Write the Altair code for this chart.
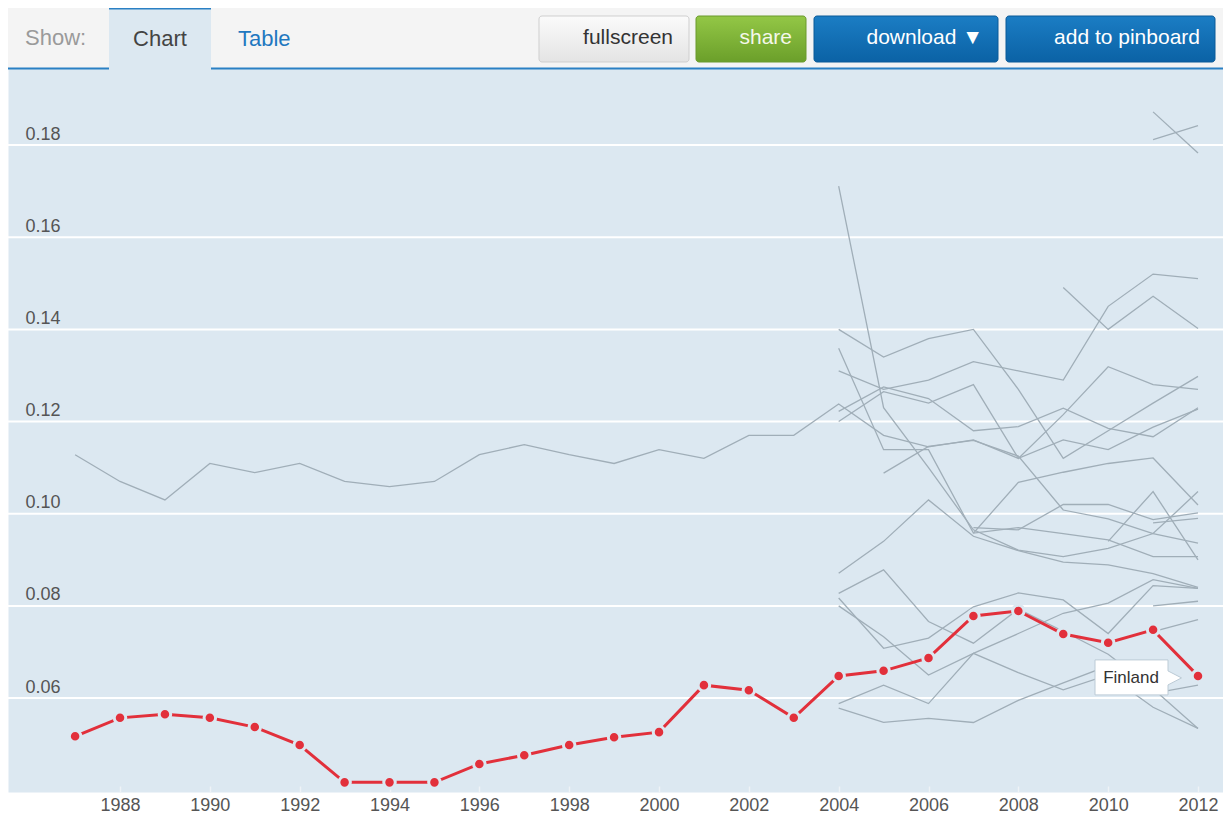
import altair as alt
import pandas as pd

# ---------------- data ----------------
YEARS = list(range(1987, 2013))
FINLAND = [0.0517, 0.0557, 0.0565, 0.0557, 0.0537, 0.0498, 0.0417, 0.0417, 0.0417,
           0.0457, 0.0476, 0.0498, 0.0515, 0.0526, 0.0628, 0.0617, 0.0557, 0.0648,
           0.0659, 0.0687, 0.0778, 0.0789, 0.0739, 0.0720, 0.0748, 0.0648]
LONG_SERIES = [0.1128, 0.1070, 0.1030, 0.1109, 0.1089, 0.1109, 0.1070, 0.1059, 0.1070,
               0.1128, 0.1150, 0.1128, 0.1109, 0.1139, 0.1120, 0.1170, 0.1170, 0.1238,
               0.1170, 0.1145, 0.1160, 0.1120, 0.1160, 0.1139, 0.1188, 0.1227]

RECENT_YEARS = list(range(2004, 2013))
S02 = [0.1711, 0.1230, 0.1100, 0.0965, 0.0921, 0.0907, 0.0925, 0.0957, 0.1048]
S03 = [0.1359, 0.1139, 0.1139, 0.0958, 0.0970, 0.0957, 0.0943, 0.0907, 0.0907]
S04 = [0.1310, 0.1270, 0.1290, 0.1330, 0.1310, 0.1290, 0.1450, 0.1520, 0.1510]
S05 = [0.1400, 0.1340, 0.1380, 0.1400, 0.1270, 0.1120, 0.1180, 0.1240, 0.1298]
S06 = [0.1222, 0.1275, 0.1250, 0.1180, 0.1189, 0.1229, 0.1185, 0.1167, 0.1230]
S07 = [0.1200, 0.1265, 0.1240, 0.1280, 0.1120, 0.1215, 0.1319, 0.1280, 0.1270]
S08 = [None, 0.1088, 0.1146, 0.1159, 0.1125, 0.1008, 0.0989, 0.0957, 0.0936]
S09 = [0.0871, 0.0940, 0.1030, 0.0951, 0.0920, 0.0895, 0.0889, 0.0870, 0.0840]
S10 = [None, None, None, 0.0958, 0.1068, 0.1090, 0.1109, 0.1121, 0.1019]
S11 = [0.0827, 0.0878, 0.0766, 0.0719, 0.0793, 0.0745, 0.0695, 0.0620, 0.0534]
S12 = [0.0817, 0.0708, 0.0730, 0.0798, 0.0828, 0.0813, 0.0740, 0.0844, 0.0838]
S13 = [0.0800, 0.0733, 0.0650, 0.0697, 0.0740, 0.0784, 0.0806, 0.0857, 0.0838]
S14 = [0.0588, 0.0628, 0.0588, 0.0697, 0.0655, 0.0618, 0.0650, 0.0580, 0.0534]
S15 = [0.0578, 0.0547, 0.0556, 0.0547, 0.0595, 0.0633, 0.0670, 0.0610, 0.0628]
S16 = [None, None, None, 0.0970, 0.0965, 0.1020, 0.1020, 0.0987, 0.1002]
S17 = [None, None, None, None, None, None, None, 0.1872, 0.1783]
S18 = [None, None, None, None, None, None, None, 0.1812, 0.1842]
S19 = [None, None, None, None, None, 0.1491, 0.1400, 0.1472, 0.1402]
S20 = [None, None, None, None, None, None, 0.0940, 0.1048, 0.0900]
S21 = [None, None, None, None, None, None, None, 0.0744, 0.0770]
S22 = [None, None, None, None, None, None, None, 0.0800, 0.0810]
S23 = [None, None, None, None, None, None, None, 0.0980, 0.0990]
RECENT_SERIES = [S02, S03, S04, S05, S06, S07, S08, S09, S10, S11, S12, S13,
                 S14, S15, S16, S17, S18, S19, S20, S21, S22, S23]

Y_TICKS = [0.06, 0.08, 0.10, 0.12, 0.14, 0.16, 0.18]
X_TICKS = list(range(1988, 2013, 2))
HIGHLIGHT = "Finland"
TAB_LABELS = ["Show:", "Chart", "Table"]
BUTTON_LABELS = ["fullscreen", "share", "download \u25BC", "add to pinboard"]

# ---------------- tables ----------------
fin_df = pd.DataFrame({"year": YEARS, "value": FINLAND, "country": HIGHLIGHT})
rows = [{"series": "S01", "year": y, "value": v} for y, v in zip(YEARS, LONG_SERIES)]
for i, s in enumerate(RECENT_SERIES):
    for y, v in zip(RECENT_YEARS, s):
        if v is not None:
            rows.append({"series": f"S{i + 2:02d}", "year": y, "value": v})
gray_df = pd.DataFrame(rows)
grid_df = pd.DataFrame({"value": Y_TICKS})

FONT = "Liberation Sans"
PLOT_BG = "#dce8f1"
BLUE = "#2a80c4"
W, H = 1215, 784

x_scale = alt.Scale(domain=[1987, 2012], range=[67.1, 1190])
y_scale = alt.Scale(domain=[0.04, 0.20], range=[782.2, 44.9])

x_axis = alt.Axis(values=X_TICKS, format="d", orient="bottom", domain=False,
                  ticks=True, tickColor="#eef3f7", tickSize=6, tickWidth=1.5,
                  offset=-6, labelPadding=4, labelFontSize=18, labelFont=FONT,
                  labelColor="#555555", labelFlush=False, labelOverlap=False,
                  grid=False, title=None)
y_axis = alt.Axis(values=Y_TICKS, format=".2f", orient="left", domain=False,
                  ticks=False, tickSize=0, labelPadding=-17, labelAlign="left",
                  labelBaseline="alphabetic", labelOffset=-6, labelFontSize=18,
                  labelFont=FONT, labelColor="#555555", labelOverlap=False,
                  grid=False, title=None)

X = alt.X("year:Q", scale=x_scale, axis=x_axis)
Y = alt.Y("value:Q", scale=y_scale, axis=y_axis)

grid = alt.Chart(grid_df).mark_rule(color="white", strokeWidth=2).encode(
    y=Y, x=alt.value(0), x2=alt.value(W))
gray = alt.Chart(gray_df).mark_line(color="#a0aeb8", strokeWidth=1.3).encode(
    x=X, y=Y, detail="series:N")
red_line = alt.Chart(fin_df).mark_line(
    color="#e2303b", strokeWidth=3).encode(x=X, y=Y)
red_pts = alt.Chart(fin_df).mark_circle(
    size=133, color="#e2303b", opacity=1, stroke=PLOT_BG, strokeWidth=3).encode(x=X, y=Y)

box_path = ("M-0.73,-0.35 L0.73,-0.35 L0.73,-0.13 L1.0,0.01 L0.73,0.15 "
            "L0.73,0.35 L-0.73,0.35 Z")
last = fin_df.iloc[[-1]]
label_box = alt.Chart(last).mark_point(
    shape=box_path, filled=True, fill="white", stroke="#bccbd6", strokeWidth=1,
    size=10000, opacity=1, xOffset=-66.5, yOffset=1.5).encode(x=X, y=Y)
label_text = alt.Chart(last).mark_text(
    font=FONT, fontSize=17, color="#333333", align="center", baseline="middle",
    dx=-67, dy=2).encode(x=X, y=Y, text="country:N")

# ---------------- toolbar (decoration) ----------------
one = pd.DataFrame({"k": [0]})


def rect(x, x2, y, y2, fill, stroke=None, radius=0):
    kw = {}
    if stroke:
        kw["stroke"] = stroke
        kw["strokeWidth"] = 1
    if radius:
        kw["cornerRadius"] = radius
    return alt.Chart(one).mark_rect(fill=fill, **kw).encode(
        x=alt.value(x), x2=alt.value(x2), y=alt.value(y), y2=alt.value(y2))


def label(txt, x, y, color, align="left", size=22):
    return alt.Chart(one).mark_text(
        text=txt, font=FONT, fontSize=size, color=color, align=align,
        baseline="middle").encode(x=alt.value(x), y=alt.value(y))


def grad(c1, c2):
    return alt.LinearGradient(gradient="linear", x1=0, x2=0, y1=0, y2=1,
                              stops=[alt.GradientStop(color=c1, offset=0),
                                     alt.GradientStop(color=c2, offset=1)])


toolbar = [
    rect(0, W, 0, 60, "#f4f4f4"),
    rect(0, W, 59.5, 61.5, BLUE),
    rect(101, 203, 0, 62, PLOT_BG),
    rect(101, 203, 0, 1.5, BLUE),
    label(TAB_LABELS[0], 17, 30, "#9a9a9a"),
    label(TAB_LABELS[1], 152, 31, "#444444", align="center"),
    label(TAB_LABELS[2], 230, 31, "#1f78c0"),
    rect(531, 681, 8, 54, grad("#fbfbfb", "#e4e4e4"), stroke="#cfcfcf", radius=3),
    rect(688, 798, 8, 54, grad("#93c746", "#6b9f2a"), stroke="#6a9a2c", radius=3),
    rect(806, 990, 8, 54, grad("#1b7dc4", "#0b62a5"), stroke="#0b5a98", radius=3),
    rect(998, 1207, 8, 54, grad("#1b7dc4", "#0b62a5"), stroke="#0b5a98", radius=3),
    label(BUTTON_LABELS[0], 665, 30, "#333333", align="right", size=21),
    label(BUTTON_LABELS[1], 784, 30, "#f4f8ea", align="right", size=21),
    label(BUTTON_LABELS[2], 975, 30, "#ffffff", align="right", size=21),
    label(BUTTON_LABELS[3], 1192, 30, "#ffffff", align="right", size=21),
]

chart = alt.layer(
    grid, gray, red_line, red_pts, label_box, label_text, *toolbar
).properties(
    width=W, height=H,
    padding={"left": 0, "top": 0, "right": 0, "bottom": 22},
    autosize=alt.AutoSizeParams(type="none"),
    background="white",
).configure_view(fill=PLOT_BG, stroke="transparent")

chart.save("out.html", embed_options={"renderer": "svg", "actions": False})
